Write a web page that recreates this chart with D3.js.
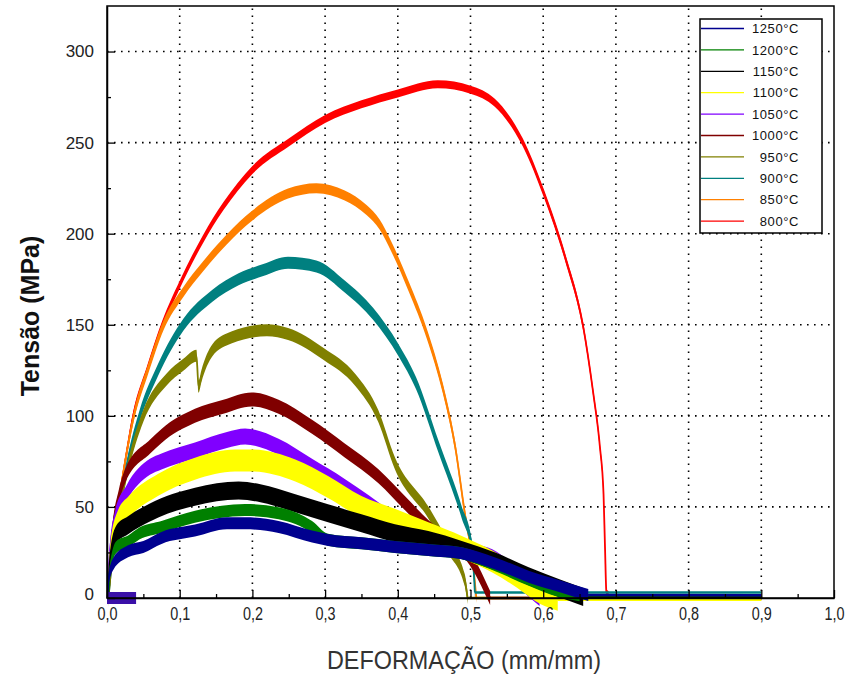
<!DOCTYPE html>
<html>
<head>
<meta charset="utf-8">
<title>Tensão x Deformação</title>
<style>
  body { margin: 0; background: #fff; }
  svg { display: block; }
  .xaxis text { font-family: 'Liberation Sans', Arial, sans-serif; font-size: 18px; fill: #222; }
  .yaxis text { font-family: 'Liberation Sans', Arial, sans-serif; font-size: 17px; fill: #222; }
  .legend text { font-family: 'Liberation Sans', Arial, sans-serif; font-size: 13px; fill: #111; }
</style>
</head>
<body>
<svg width="852" height="677"></svg>
<script src="https://d3js.org/d3.v7.min.js"></script>
<script>
// temperatures, in legend order
const temps = ['1250', '1200', '1150', '1100', '1050', '1000', '950', '900', '850', '800']

// x ticks and their labels (comma decimal)
const xTicks = [0, 0.1, 0.2, 0.3, 0.4, 0.5, 0.6, 0.7, 0.8, 0.9, 1.0]
const xLabels = ['0,0', '0,1', '0,2', '0,3', '0,4', '0,5', '0,6', '0,7', '0,8', '0,9', '1,0']
const xMinor = [0.05, 0.15, 0.25, 0.35, 0.45, 0.55, 0.65, 0.75, 0.85, 0.95]
const yTicks = [0, 50, 100, 150, 200, 250, 300]
const yMinor = [25, 75, 125, 175, 225, 275]

// [deformação, tensão]
const s800 = [[0.002,0],[0.006,25],[0.015,50],[0.025,75],[0.036,100],[0.055,125],[0.076,150],[0.1,172],[0.132,197],[0.16,215],[0.2,235],[0.25,250],[0.3,263],[0.35,271],[0.4,277],[0.455,282],[0.5,279],[0.533,272],[0.572,250],[0.601,222],[0.631,186],[0.655,149],[0.669,112],[0.678,83],[0.683,57],[0.685,28],[0.687,3],[0.69,1.5],[0.9,1.5]]
const s850 = [[0.002,0],[0.006,25],[0.015,50],[0.025,75],[0.037,100],[0.056,125],[0.078,150],[0.105,168],[0.132,182],[0.165,197],[0.2,210],[0.249,222],[0.288,225],[0.327,221],[0.357,213],[0.375,205],[0.391,193],[0.415,171],[0.44,145],[0.462,115],[0.479,83],[0.492,47],[0.504,17],[0.508,0],[0.9,-0.5]]
const s900 = [[0.002,0],[0.008,25],[0.017,50],[0.027,72],[0.045,100],[0.07,125],[0.105,150],[0.145,166],[0.181,175],[0.215,180],[0.249,184],[0.288,182],[0.327,171],[0.366,156],[0.401,136],[0.425,118],[0.456,83],[0.488,47],[0.502,28],[0.506,3],[0.9,3]]
const s950 = [[0.002,0],[0.008,25],[0.018,50],[0.029,72],[0.05,100],[0.082,120],[0.105,128],[0.123,133],[0.126,116],[0.13,122],[0.145,136],[0.171,143],[0.22,147],[0.249,145],[0.298,134],[0.341,120],[0.373,100],[0.396,74],[0.442,47],[0.469,28],[0.492,10],[0.496,0],[0.9,0]]
const s1000 = [[0.002,0],[0.006,30],[0.0165,56],[0.026,68],[0.059,83],[0.075,89],[0.121,100],[0.16,105],[0.199,109],[0.236,105],[0.282,94],[0.327,81],[0.373,67],[0.41,52],[0.442,39],[0.46,33],[0.495,24],[0.527,0],[0.9,0]]
const s1050 = [[0.001,0],[0.004,25],[0.011,43],[0.027,57.5],[0.059,72],[0.075,75],[0.121,81],[0.165,86.7],[0.19,88.6],[0.236,83],[0.282,72],[0.327,61],[0.36,52],[0.396,42],[0.44,34],[0.488,27],[0.536,21],[0.586,3],[0.595,0],[0.9,-0.5]]
const s1100 = [[0.002,0],[0.005,25],[0.015,42],[0.03,50],[0.07,62],[0.121,71],[0.176,75.5],[0.2,75.5],[0.259,70],[0.304,61],[0.35,50],[0.396,43],[0.442,35.5],[0.488,28],[0.53,20],[0.564,11.7],[0.596,2.7],[0.62,-1],[0.9,-1]]
const s1150 = [[0.002,0],[0.004,20],[0.013,35],[0.029,40],[0.059,47],[0.121,55.6],[0.181,59],[0.211,57.5],[0.259,52],[0.304,46.5],[0.35,41],[0.396,35.5],[0.442,31.8],[0.488,26.4],[0.534,20],[0.58,12],[0.625,5],[0.655,0.5],[0.9,0.5]]
const s1200 = [[0.002,0],[0.004,15],[0.013,28],[0.029,31],[0.045,35.5],[0.075,39],[0.121,44.6],[0.19,48.3],[0.236,46.5],[0.282,39],[0.304,32],[0.35,30],[0.396,28],[0.442,26.4],[0.488,24.5],[0.534,18],[0.58,10],[0.62,4],[0.65,1.5],[0.9,1.5]]
const s1250 = [[0.001,0],[0.002,10],[0.009,19],[0.029,25.6],[0.05,28],[0.075,33],[0.121,37],[0.165,41],[0.19,41],[0.236,39],[0.282,33.7],[0.304,31.8],[0.35,30],[0.396,28],[0.442,26.4],[0.488,24.5],[0.534,19],[0.58,11.7],[0.625,6.2],[0.662,1.6],[0.9,1.5]]
// noisy pre-load stretch at the origin
const preload = [[0.0,0],[0.02,0],[0.04,0]]

const series = {
  '1250': s1250, '1200': s1200, '1150': s1150, '1100': s1100, '1050': s1050,
  '1000': s1000, '950': s950, '900': s900, '850': s850, '800': s800
}

// styles
const colors = {
  '1250': '#00008f', '1200': '#008000', '1150': '#000000', '1100': '#ffff00', '1050': '#8000ff',
  '1000': '#800000', '950': '#808000', '900': '#008080', '850': '#ff8000', '800': '#ff0000'
}
// half height of the noise band, px
const noise = {
  '1250': 6, '1200': 6, '1150': 9, '1100': 11, '1050': 8,
  '1000': 7, '950': 6, '900': 6, '850': 5, '800': 4
}

let width = 852
let height = 677
let margin = {top: 6, right: 18, bottom: 79, left: 107}

let svg = d3.select('svg')

let x = d3.scaleLinear().domain([0, 1]).range([margin.left, width - margin.right])
let y = d3.scaleLinear().domain([0, 325]).range([height - margin.bottom, margin.top])

// dotted grid
let grid = svg.append('g')
grid.selectAll('.vg')
  .data(xTicks.slice(1, -1))
  .join('line')
  .attr('x1', d => x(d)).attr('x2', d => x(d))
  .attr('y1', y(0)).attr('y2', y(325))
grid.selectAll('.hg')
  .data(yTicks.slice(1))
  .join('line')
  .attr('x1', x(0)).attr('x2', x(1))
  .attr('y1', d => y(d)).attr('y2', d => y(d))
grid.selectAll('line')
  .style('stroke', '#000')
  .style('stroke-width', 1.6)
  .style('stroke-dasharray', '1.6,5.4')

// curves, 800 drawn first so 1250 ends on top
let curve = d3.curveMonotoneX
let area = h => d3.area()
  .curve(curve)
  .x(d => x(d[0]))
  .y0(d => y(d[1]) + h)
  .y1(d => y(d[1]) - h)
let line = d3.line().curve(curve).x(d => x(d[0])).y(d => y(d[1]))
let straight = d3.line().x(d => x(d[0])).y(d => y(d[1]))

let curves = svg.append('g')
temps.slice().reverse().forEach(t => {
  let data = series[t]
  let g = curves.append('g')
  g.append('path')
    .attr('d', area(noise[t])(data.slice(0, -1)))
    .style('fill', colors[t])
  g.append('path')
    .attr('d', line(data.slice(0, -1)))
    .style('fill', 'none')
    .style('stroke', colors[t])
    .style('stroke-width', 1.8)
  // flat tail after rupture
  g.append('path')
    .attr('d', straight(data.slice(-2)))
    .style('fill', 'none')
    .style('stroke', colors[t])
    .style('stroke-width', 2.5)
})

curves.append('path')
  .attr('d', area(6)(preload))
  .style('fill', '#3a10a8')

// legend
let lg = svg.append('g').attr('class', 'legend')
lg.append('rect')
  .attr('x', 700).attr('y', 19)
  .attr('width', 122).attr('height', 214)
  .style('fill', '#fff')
  .style('stroke', '#000')
  .style('stroke-width', 1.5)
let rows = lg.selectAll('.row')
  .data(temps)
  .join('g')
  .attr('transform', (d, i) => `translate(0, ${28.5 + i * 21.4})`)
rows.append('line')
  .attr('x1', 701).attr('x2', 744)
  .style('stroke', d => colors[d])
  .style('stroke-width', 1.3)
rows.append('text')
  .attr('x', 799).attr('dy', '0.36em')
  .attr('text-anchor', 'end')
  .style('letter-spacing', '0.6px')
  .text(d => d + '°C')

// frame
svg.append('rect')
  .attr('x', x(0)).attr('y', y(325))
  .attr('width', x(1) - x(0)).attr('height', y(0) - y(325))
  .style('fill', 'none')
  .style('stroke', '#000')
  .style('stroke-width', 1.5)

// axes with inward ticks
let xAxis = svg.append('g')
  .attr('class', 'xaxis')
  .attr('transform', `translate(0, ${y(0)})`)
  .call(d3.axisBottom(x).tickValues(xTicks).tickFormat((d, i) => xLabels[i]).tickSizeInner(-8).tickSizeOuter(0).tickPadding(9))
// condensed look of the x labels
xAxis.selectAll('.tick text').attr('transform', 'scale(0.8, 1)')
svg.append('g')
  .attr('transform', `translate(0, ${y(0)})`)
  .call(d3.axisBottom(x).tickValues(xMinor).tickFormat('').tickSizeInner(-4).tickSizeOuter(0))
  .call(g => g.select('.domain').remove())

let yAxis = svg.append('g')
  .attr('class', 'yaxis')
  .attr('transform', `translate(${x(0)}, 0)`)
  .call(d3.axisLeft(y).tickValues(yTicks).tickSizeInner(-8).tickSizeOuter(0).tickPadding(13))
svg.append('g')
  .attr('transform', `translate(${x(0)}, 0)`)
  .call(d3.axisLeft(y).tickValues(yMinor).tickFormat('').tickSizeInner(-4).tickSizeOuter(0))
  .call(g => g.select('.domain').remove())

svg.selectAll('.domain').style('stroke-width', 1.5)
svg.selectAll('.tick line').style('stroke-width', 1.3)
yAxis.select('.tick text').attr('dy', '0.1em')

// titles
svg.append('text')
  .attr('transform', 'translate(464, 669) scale(0.9, 1)')
  .attr('text-anchor', 'middle')
  .style('font-family', "'Liberation Sans', Arial, sans-serif")
  .style('font-size', '26px')
  .style('fill', '#333')
  .text('DEFORMAÇÃO (mm/mm)')

svg.append('text')
  .attr('transform', 'translate(39, 316) rotate(-90)')
  .attr('text-anchor', 'middle')
  .style('font-family', "'Liberation Sans', Arial, sans-serif")
  .style('font-size', '25px')
  .style('font-weight', 'bold')
  .style('fill', '#111')
  .text('Tensão (MPa)')
</script>
</body>
</html>
